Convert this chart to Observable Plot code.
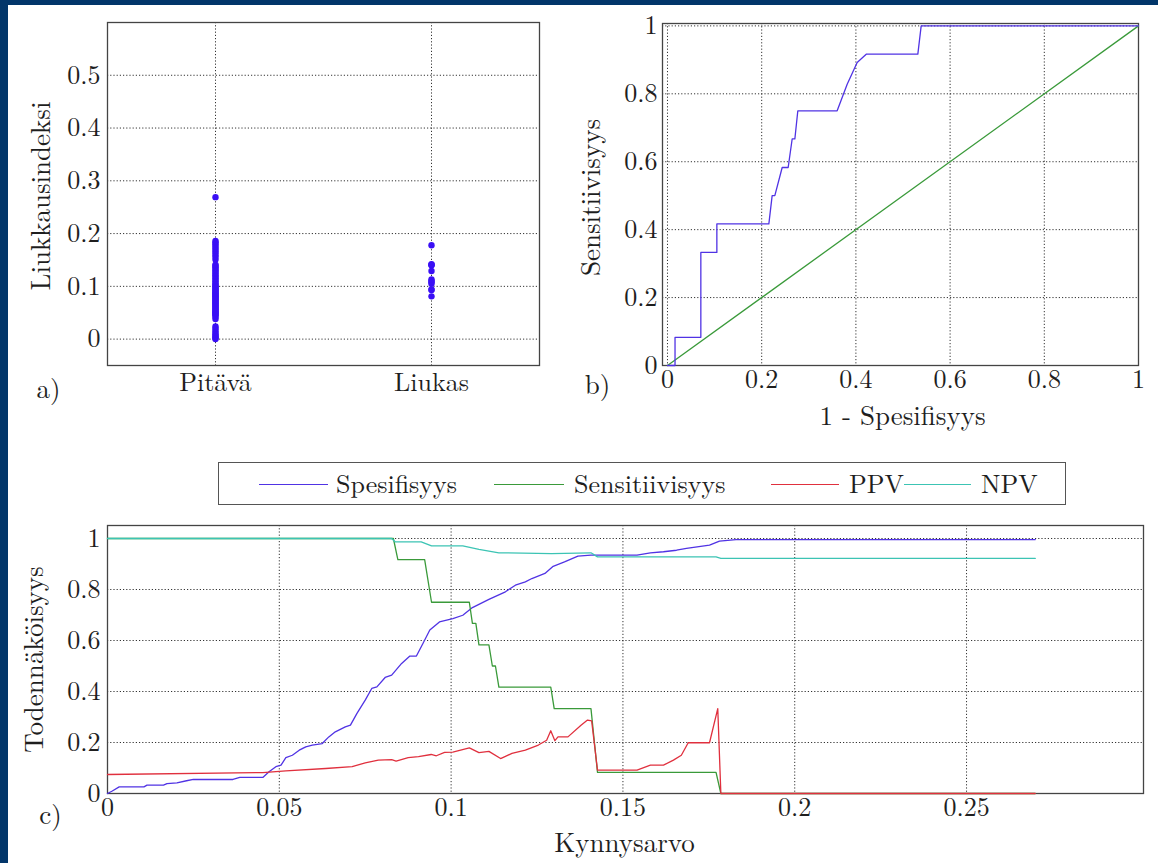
<!DOCTYPE html>
<html>
<head>
<meta charset="utf-8">
<script src="https://cdn.jsdelivr.net/npm/d3@7"></script>
<script src="https://cdn.jsdelivr.net/npm/@observablehq/plot@0.6"></script>
<style>
  html, body { margin: 0; padding: 0; background: #fff; }
  #page { position: relative; width: 1158px; height: 863px; overflow: hidden; background: #fff;
          font-family: "Latin Modern Roman", "Liberation Serif", serif; color: #1e1e1e; }
  .bar { position: absolute; background: #02366a; }
  .panel { position: absolute; }
  #legend { position: absolute; left: 218px; top: 462px; width: 848px; height: 43px;
            box-sizing: border-box; border: 1.5px solid #555; background: #fff; }
  .lg-line { position: absolute; height: 1.5px; }
  .lg-text { position: absolute; font-size: 26px; line-height: 26px; color: #1e1e1e; white-space: nowrap;
             font-family: "Latin Modern Roman", "Liberation Serif", serif; }
</style>
</head>
<body>
<div id="page">
  <div class="bar" style="left:0;top:0;width:8px;height:863px"></div>
  <div class="bar" style="left:0;top:0;width:1158px;height:5px"></div>
  <div class="panel" id="pa" style="left:0;top:0"></div>
  <div class="panel" id="pb" style="left:580px;top:0"></div>
  <div id="legend"></div>
  <div class="panel" id="pc" style="left:0;top:510px"></div>
</div>
<script>
// ---------- Data ----------
const categories = ["Pitävä", "Liukas"];
const pitavaValues = [0, 0.002, 0.004, 0.006, 0.009, 0.012, 0.016, 0.020, 0.024,
  0.038, 0.042, 0.045, 0.047, 0.049, 0.051, 0.053, 0.055, 0.057, 0.059, 0.061, 0.063,
  0.065, 0.067, 0.069, 0.071, 0.073, 0.075, 0.077, 0.079, 0.081, 0.083, 0.085, 0.087,
  0.089, 0.091, 0.093, 0.095, 0.097, 0.099, 0.101, 0.103, 0.106, 0.109, 0.112, 0.115,
  0.118, 0.121, 0.124, 0.127, 0.130, 0.133, 0.136, 0.139, 0.141,
  0.151, 0.156, 0.160, 0.164, 0.168, 0.172, 0.176, 0.180, 0.183, 0.186, 0.269];
const liukasValues = [0.081, 0.093, 0.094, 0.105, 0.108, 0.110, 0.113, 0.129, 0.140, 0.141, 0.142, 0.178];

const yTicksA = [0, 0.1, 0.2, 0.3, 0.4, 0.5];

// ROC curve: [1 - Spesifisyys, Sensitiivisyys]
const rocCurve = [[0,0],[0.016,0],[0.016,0.083],[0.0708,0.083],[0.0708,0.333],[0.1048,0.333],
  [0.1048,0.417],[0.2152,0.417],[0.2222,0.5],[0.2279,0.5],[0.2435,0.583],[0.2562,0.583],
  [0.2647,0.667],[0.2704,0.667],[0.2767,0.75],[0.3602,0.75],[0.3815,0.828],[0.4027,0.892],
  [0.4225,0.917],[0.5315,0.917],[0.5386,1],[1,1]];
const diagonal = [[0,0],[1,1]];
const ticksB = [0, 0.2, 0.4, 0.6, 0.8, 1];

// Panel c series: [Kynnysarvo, value]
const spesifisyys = [[0,0],[0.0014,0.01],[0.0034,0.026],[0.0106,0.026],[0.0115,0.033],[0.0163,0.033],
  [0.0173,0.039],[0.0202,0.042],[0.023,0.05],[0.025,0.055],[0.0365,0.055],[0.0385,0.063],[0.0452,0.063],
  [0.047,0.085],[0.049,0.105],[0.0505,0.111],[0.0519,0.141],[0.0538,0.15],[0.0558,0.17],[0.0577,0.183],
  [0.0596,0.19],[0.0625,0.196],[0.0644,0.222],[0.0663,0.242],[0.0692,0.261],[0.0707,0.268],[0.0726,0.314],
  [0.075,0.366],[0.0769,0.412],[0.0784,0.418],[0.0808,0.455],[0.0827,0.464],[0.0856,0.51],[0.088,0.539],
  [0.0899,0.539],[0.0918,0.588],[0.0938,0.641],[0.0966,0.673],[0.1005,0.686],[0.1034,0.699],[0.1062,0.729],
  [0.111,0.761],[0.1158,0.791],[0.1187,0.817],[0.1216,0.83],[0.1235,0.843],[0.1273,0.863],[0.1297,0.891],
  [0.133,0.908],[0.1369,0.931],[0.1407,0.935],[0.1541,0.935],[0.158,0.944],[0.1618,0.948],[0.1656,0.954],
  [0.1685,0.961],[0.1752,0.974],[0.1781,0.99],[0.1829,0.996],[0.27,0.996]];
const sensitiivisyys = [[0,1],[0.0832,1],[0.0845,0.917],[0.0923,0.917],[0.0943,0.75],[0.1053,0.75],
  [0.1062,0.667],[0.1072,0.667],[0.1081,0.583],[0.111,0.583],[0.112,0.5],[0.1129,0.5],[0.1139,0.417],
  [0.129,0.417],[0.13,0.333],[0.1407,0.333],[0.1426,0.083],[0.1771,0.083],[0.1785,0],[0.27,0]];
const ppv = [[0,0.0745],[0.0452,0.082],[0.0519,0.089],[0.0635,0.098],[0.0712,0.105],[0.075,0.12],
  [0.0788,0.131],[0.0827,0.133],[0.084,0.127],[0.0875,0.141],[0.0905,0.145],[0.0942,0.153],[0.0957,0.148],
  [0.0981,0.161],[0.1005,0.162],[0.1053,0.179],[0.1081,0.16],[0.111,0.165],[0.1144,0.137],[0.1177,0.157],
  [0.1216,0.17],[0.1254,0.19],[0.1278,0.209],[0.129,0.246],[0.1302,0.207],[0.1311,0.222],[0.134,0.222],
  [0.1378,0.268],[0.1397,0.288],[0.1409,0.285],[0.1426,0.0915],[0.1541,0.0915],[0.158,0.111],[0.1618,0.111],
  [0.1647,0.131],[0.167,0.15],[0.169,0.199],[0.1752,0.199],[0.1776,0.333],[0.1785,0],[0.27,0]];
const npv = [[0,1],[0.0827,1],[0.0837,0.987],[0.0913,0.987],[0.0943,0.971],[0.1034,0.971],[0.1081,0.957],
  [0.1139,0.944],[0.1292,0.941],[0.1407,0.944],[0.1426,0.928],[0.1771,0.928],[0.1785,0.922],[0.27,0.922]];
const xTicksC = [0, 0.05, 0.1, 0.15, 0.2, 0.25];
const yTicksC = [0, 0.2, 0.4, 0.6, 0.8, 1];

const seriesNames = ["Spesifisyys", "Sensitiivisyys", "PPV", "NPV"];
const seriesColors = ["#5033e4", "#3a9a3a", "#e0303e", "#3cc4b4"];

// ---------- Styles ----------
const FONT = "'Latin Modern Roman', 'Liberation Serif', serif";
const TICK_FS = 26;
const LABEL_FS = 27;
const baseStyle = {fontFamily: FONT, fontSize: TICK_FS + "px", color: "#1e1e1e", background: "transparent", overflow: "visible"};
const gridOpts = {stroke: "#111", strokeOpacity: 0.85, strokeWidth: 1, strokeDasharray: "1.2,2"};
const frameOpts = {stroke: "#444", strokeWidth: 1.3};
const fmt = d => String(d);
const lab = {fontSize: LABEL_FS, fontFamily: FONT, textAnchor: "middle"};

// ---------- Panel a ----------
const dotsData = [
  ...pitavaValues.map(v => ({cat: categories[0], v})),
  ...liukasValues.map(v => ({cat: categories[1], v}))
];
const pa = Plot.plot({
  width: 580, height: 440,
  marginLeft: 107, marginRight: 41, marginTop: 22, marginBottom: 75,
  style: baseStyle,
  x: {type: "point", domain: categories, padding: 0.5, label: null, tickSize: 0, tickPadding: 7},
  y: {domain: [-0.05, 0.6], ticks: yTicksA, tickFormat: fmt, label: null, tickSize: 0, tickPadding: 7},
  marks: [
    Plot.gridX(categories, {...gridOpts}),
    Plot.gridY(yTicksA, {...gridOpts}),
    Plot.frame(frameOpts),
    Plot.dot(dotsData, {x: "cat", y: "v", r: 3.2, fill: "#3a0ff5", stroke: "none"}),
    Plot.text(["Liukkausindeksi"], {frameAnchor: "left", rotate: -90, dx: -66, dy: 2, ...lab}),
    Plot.text(["a)"], {frameAnchor: "bottom-left", dx: -59, dy: 32, ...lab})
  ]
});
document.getElementById("pa").appendChild(pa);

// ---------- Panel b ----------
const pb = Plot.plot({
  width: 578, height: 440,
  marginLeft: 82, marginRight: 20, marginTop: 23, marginBottom: 75,
  style: baseStyle,
  x: {domain: [-0.0106, 1], ticks: ticksB, tickFormat: fmt, label: null, tickSize: 0, tickPadding: 4},
  y: {domain: [0, 1.007], ticks: ticksB, tickFormat: fmt, label: null, tickSize: 0, tickPadding: 5},
  marks: [
    Plot.gridX(ticksB, {...gridOpts}),
    Plot.gridY(ticksB, {...gridOpts}),
    Plot.frame(frameOpts),
    Plot.line(diagonal, {x: d => d[0], y: d => d[1], stroke: "#3a9a3a", strokeWidth: 1.3}),
    Plot.line(rocCurve, {x: d => d[0], y: d => d[1], stroke: "#5033e4", strokeWidth: 1.3}),
    Plot.text(["Sensitiivisyys"], {frameAnchor: "left", rotate: -90, dx: -71, dy: 3, ...lab}),
    Plot.text(["1 - Spesifisyys"], {frameAnchor: "bottom", dx: 2, dy: 59, ...lab}),
    Plot.text(["b)"], {frameAnchor: "bottom-left", dx: -65, dy: 28, ...lab})
  ]
});
document.getElementById("pb").appendChild(pb);

// ---------- Legend ----------
const legendLayout = [
  {lineL: 258, lineR: 327, textL: 335},
  {lineL: 493, lineR: 563, textL: 573},
  {lineL: 770, lineR: 838, textL: 848},
  {lineL: 903, lineR: 970, textL: 980}
];
const legend = document.getElementById("legend");
seriesNames.forEach((name, i) => {
  const L = legendLayout[i];
  const ln = document.createElement("div");
  ln.className = "lg-line";
  ln.style.left = (L.lineL - 218) + "px";
  ln.style.width = (L.lineR - L.lineL) + "px";
  ln.style.top = (484 - 462 - 1.5) + "px";
  ln.style.background = seriesColors[i];
  legend.appendChild(ln);
  const tx = document.createElement("div");
  tx.className = "lg-text";
  tx.style.left = (L.textL - 218) + "px";
  tx.style.top = (484 - 462 - 15) + "px";
  tx.textContent = name;
  legend.appendChild(tx);
});

// ---------- Panel c ----------
const seriesData = [spesifisyys, sensitiivisyys, ppv, npv];
const pc = Plot.plot({
  width: 1158, height: 353,
  marginLeft: 107, marginRight: 15, marginTop: 15, marginBottom: 70,
  style: baseStyle,
  x: {domain: [0, 0.3015], ticks: xTicksC, tickFormat: fmt, label: null, tickSize: 0, tickPadding: 4},
  y: {domain: [0, 1.051], ticks: yTicksC, tickFormat: fmt, label: null, tickSize: 0, tickPadding: 7},
  marks: [
    Plot.gridX(xTicksC, {...gridOpts}),
    Plot.gridY(yTicksC, {...gridOpts}),
    Plot.frame(frameOpts),
    ...seriesData.map((s, i) => Plot.line(s, {x: d => d[0], y: d => d[1], stroke: seriesColors[i], strokeWidth: 1.3})),
    Plot.text(["Todennäköisyys"], {frameAnchor: "left", rotate: -90, dx: -73, dy: 0, ...lab}),
    Plot.text(["Kynnysarvo"], {frameAnchor: "bottom", dx: -1, dy: 58, ...lab}),
    Plot.text(["c)"], {frameAnchor: "bottom-left", dx: -57, dy: 30, ...lab})
  ]
});
document.getElementById("pc").appendChild(pc);
</script>
</body>
</html>
